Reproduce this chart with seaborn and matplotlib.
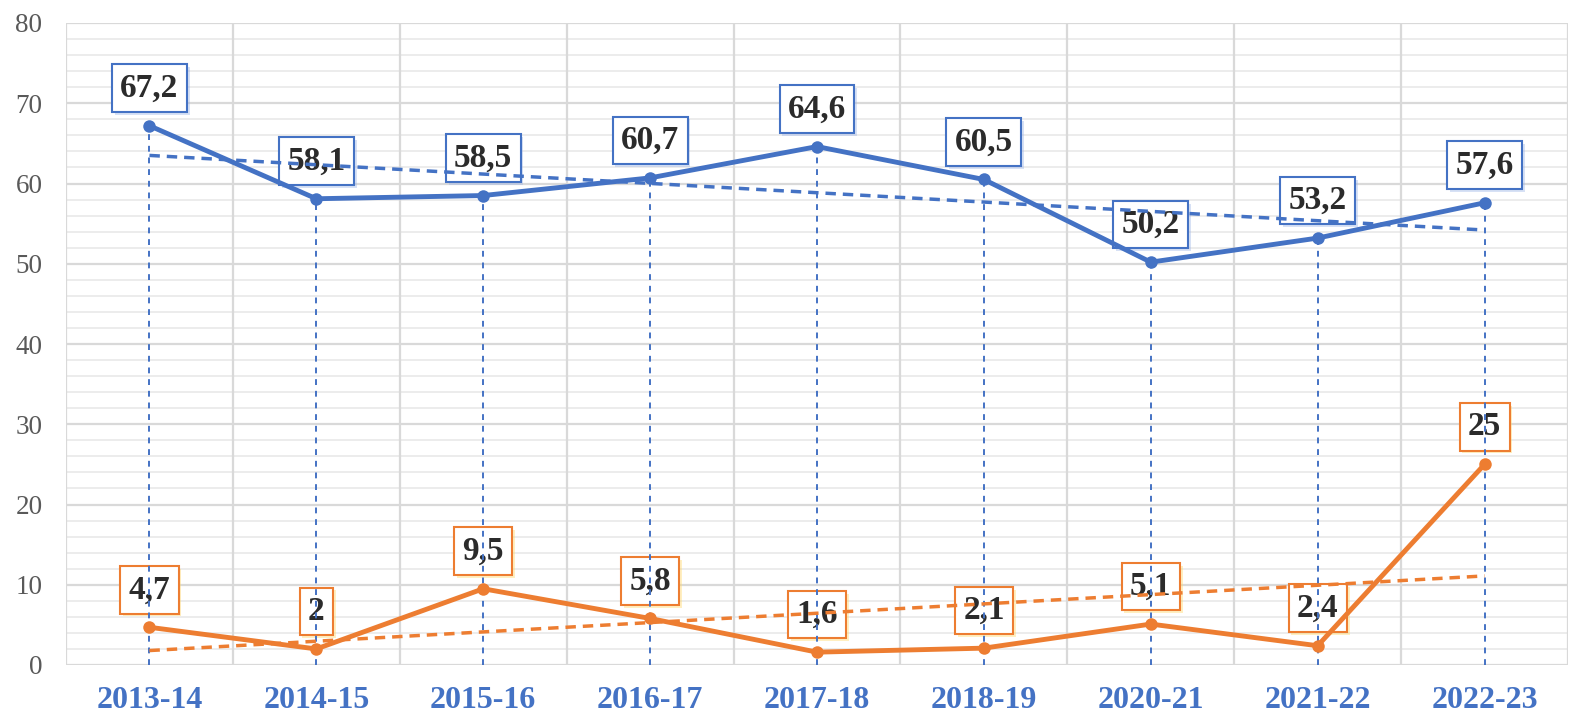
import numpy as np
import matplotlib
matplotlib.use('Agg')
import matplotlib.pyplot as plt
import matplotlib.patheffects as pe
import seaborn as sns
import pandas as pd

# data
seasons = ['2013-14', '2014-15', '2015-16', '2016-17', '2017-18',
           '2018-19', '2020-21', '2021-22', '2022-23']
blue_vals = [67.2, 58.1, 58.5, 60.7, 64.6, 60.5, 50.2, 53.2, 57.6]
orange_vals = [4.7, 2.0, 9.5, 5.8, 1.6, 2.1, 5.1, 2.4, 25.0]
# trend line ends (first and last category)
blue_trend = [63.5, 54.2]
orange_trend = [1.8, 11.1]
y_ticks = [0, 10, 20, 30, 40, 50, 60, 70, 80]

BLUE = '#4472C4'
ORANGE = '#ED7D31'

sns.set_style('white')
plt.rcParams['font.family'] = ['Liberation Serif', 'DejaVu Serif']

fig = plt.figure(figsize=(15.87, 7.28), dpi=100)
ax = fig.add_axes([66 / 1587, 1 - 665 / 728, (1568 - 66) / 1587, (665 - 23) / 728])

x = np.arange(len(seasons))
df = pd.DataFrame({'x': np.concatenate([x, x]),
                   'val': blue_vals + orange_vals,
                   'series': ['blue'] * len(x) + ['orange'] * len(x)})

# gridlines
for v in np.arange(0, 81, 2):
    if v % 10:
        ax.axhline(v, color='#EBEBEB', lw=1.3, zorder=0)
for v in y_ticks:
    ax.axhline(v, color='#D9D9D9', lw=1.6, zorder=0)
for b in np.arange(-0.5, len(seasons), 1.0):
    ax.axvline(b, color='#D9D9D9', lw=1.6, zorder=0)

# drop lines from each highest point to the axis
top = np.maximum(blue_vals, orange_vals)
ax.vlines(x, 0, top, colors=BLUE, linestyles=(0, (3, 3)), lw=1.4, zorder=2)

# trend lines
ax.plot([x[0], x[-1]], blue_trend, color=BLUE, ls=(0, (3, 2)), lw=2.5, zorder=2)
ax.plot([x[0], x[-1]], orange_trend, color=ORANGE, ls=(0, (3, 2)), lw=2.5, zorder=2)

sns.lineplot(data=df, x='x', y='val', hue='series', palette={'blue': BLUE, 'orange': ORANGE},
             marker='o', markersize=9, markeredgewidth=0, lw=3.5, legend=False, ax=ax, zorder=3)


def label(xv, yv, color, glow):
    txt = f'{yv:g}'.replace('.', ',')
    a = ax.annotate(txt, (xv, yv), xytext=(0, 27), textcoords='offset points',
                    ha='center', va='center', fontsize=24, fontweight='bold',
                    color='#2B2B2B', zorder=1.5,
                    bbox=dict(boxstyle='square,pad=0.25', fc='white', ec=color, lw=1.5))
    a.get_bbox_patch().set_path_effects([
        pe.SimplePatchShadow(offset=(2, -2), shadow_rgbFace=glow, alpha=0.4),
        pe.Normal()])


for xi, v in zip(x, blue_vals):
    label(xi, v, BLUE, '#9DB4E8')
for xi, v in zip(x, orange_vals):
    label(xi, v, ORANGE, '#FFD966')

ax.set_xlim(-0.5, len(seasons) - 0.5)
ax.set_ylim(0, 80)
ax.set_yticks(y_ticks)
ax.set_yticklabels([str(t) for t in y_ticks], fontsize=19.5, color='#595959')
ax.set_xticks(x)
ax.set_xticklabels(seasons, fontsize=23, fontweight='bold', color=BLUE)
ax.tick_params(axis='x', length=0, pad=15)
ax.tick_params(axis='y', length=0, pad=17)
ax.set_xlabel('')
ax.set_ylabel('')
for s in ax.spines.values():
    s.set_visible(False)

fig.savefig('out.png', dpi=100)
